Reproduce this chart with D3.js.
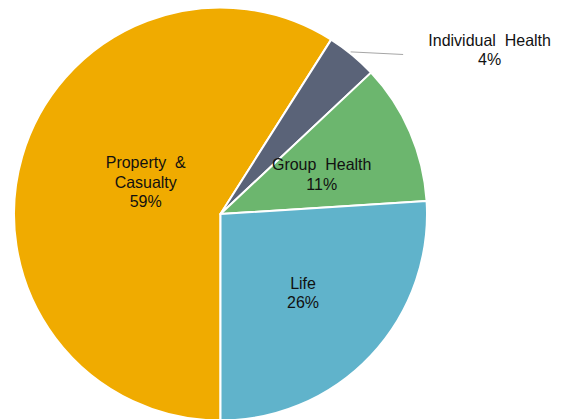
<!DOCTYPE html>
<html>
<head>
<meta charset="utf-8">
<script src="https://cdn.jsdelivr.net/npm/d3@7/dist/d3.min.js"></script>
<style>
  html, body { margin: 0; padding: 0; background: #fff; }
  svg { display: block; }
  text { font-family: "Liberation Sans", Arial, sans-serif; font-size: 16px; fill: #111; white-space: pre; }
</style>
</head>
<body>
<svg id="chart" width="564" height="419"></svg>
<script>
// Premium mix by line of business (%)
const categories = ["Property  &\nCasualty", "Individual  Health", "Group  Health", "Life"];
const shares = [59, 4, 11, 26];
const colors = ["#F0AB00", "#5A6378", "#6CB66E", "#60B3CB"];

const width = 564, height = 419;
const cx = 220.5, cy = 214, radius = 206.5;

const svg = d3.select("#chart");
const g = svg.append("g").attr("transform", `translate(${cx},${cy})`);

const pie = d3.pie().sort(null).value(d => d)
  .startAngle(Math.PI).endAngle(3 * Math.PI);
const arcs = pie(shares);

const arc = d3.arc().innerRadius(0).outerRadius(radius);

g.selectAll("path.slice")
  .data(arcs)
  .join("path")
  .attr("class", "slice")
  .attr("d", arc)
  .attr("fill", (d, i) => colors[i])
  .attr("stroke", "#fff")
  .attr("stroke-width", 2)
  .attr("stroke-linejoin", "round");

// Label placement: polar offset from the slice middle (fraction of radius, extra angle in degrees)
const labelRadius = [0.394, null, 0.527, 0.552];
const labelTurn = [7, 0, 1.8, 0.4];
const lineHeight = 19.5;

function labelLines(i) {
  return categories[i].split("\n").concat([shares[i] + "%"]);
}

arcs.forEach((d, i) => {
  const mid = (d.startAngle + d.endAngle) / 2 + labelTurn[i] * Math.PI / 180;
  const lines = labelLines(i);
  let x, y;
  if (labelRadius[i] !== null) {
    const r = radius * labelRadius[i];
    x = r * Math.sin(mid);
    y = -r * Math.cos(mid);
  } else {
    // outside label with a short leader line from the rim
    const sx = radius * Math.sin(mid) - 1.5, sy = -radius * Math.cos(mid) - 3;
    const ex = sx + 52.5, ey = sy + 2.6;
    g.append("line")
      .attr("x1", sx).attr("y1", sy)
      .attr("x2", ex).attr("y2", ey)
      .attr("stroke", "#a6a6a6").attr("stroke-width", 1);
    x = ex + 86.5;
    y = ey - 5;
  }
  const t = g.append("text")
    .attr("text-anchor", "middle")
    .attr("transform", `translate(${x},${y}) scale(1,1.07)`);
  const offset = -((lines.length - 1) * lineHeight) / 2 / 1.07;
  lines.forEach((ln, k) => {
    t.append("tspan")
      .attr("x", 0)
      .attr("y", offset + k * lineHeight / 1.07)
      .attr("dy", "0.35em")
      .text(ln);
  });
});
</script>
</body>
</html>
